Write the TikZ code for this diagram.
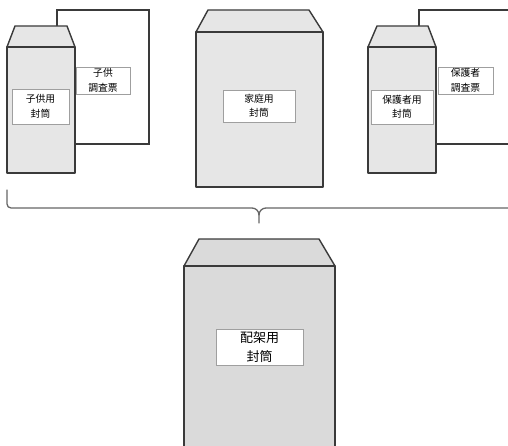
\documentclass[tikz,border=0pt]{standalone}
\usepackage{fontspec}
\newfontfamily\cjk{Noto Sans CJK JP}
\definecolor{envfill}{HTML}{E6E6E6}
\definecolor{envfilltwo}{HTML}{DADADA}
\definecolor{edge}{HTML}{3A3A3A}
\definecolor{bracec}{HTML}{666666}
\begin{document}
\begin{tikzpicture}[x=1pt,y=-1pt,
  env/.style={draw=edge,line width=1.4pt,fill=envfill,line join=round},
  paper/.style={draw=edge,line width=1.4pt,fill=white},
  lbl/.style={draw=gray!75,line width=0.6pt,fill=white,inner sep=0pt,align=center,
    font=\cjk\fontsize{9.8}{14.5}\selectfont},
  biglbl/.style={lbl,font=\cjk\fontsize{13}{19}\selectfont}]
\useasboundingbox (0,0) rectangle (508,446);
\clip (0,0) rectangle (508,446);
% child questionnaire + envelope
\draw[paper] (57,10) rectangle (149,144);
\draw[env] (7,47) -- (15,26) -- (67,26) -- (75,47) -- cycle;
\draw[env] (7,47) rectangle (75,173);
\node[lbl,minimum width=54pt,minimum height=27pt] (cq) at (103,80.5) {子供\\調査票};
\node[lbl,minimum width=57pt,minimum height=35pt] (ce) at (40.5,106.5) {子供用\\封筒};
% family envelope
\draw[env] (196,32) -- (208,10) -- (309,10) -- (323,32) -- cycle;
\draw[env] (196,32) rectangle (323,187);
\node[lbl,minimum width=72pt,minimum height=32pt] (fe) at (259,106) {家庭用\\封筒};
% guardian questionnaire + envelope
\draw[paper] (419,10) rectangle (530,144);
\draw[env] (368,47) -- (377,26) -- (428,26) -- (436,47) -- cycle;
\draw[env] (368,47) rectangle (436,173);
\node[lbl,minimum width=55pt,minimum height=27pt] (gq) at (465.5,80.5) {保護者\\調査票};
\node[lbl,minimum width=62pt,minimum height=34pt] (ge) at (402,107) {保護者用\\封筒};
% brace
\draw[bracec,line width=1.3pt,line cap=round,line join=round]
  (7,190) -- (7,204) to[out=-90,in=180] (11,208) -- (252,208)
  to[out=0,in=90] (259,215) -- (259,223);
\draw[bracec,line width=1.3pt,line cap=round,line join=round]
  (515,208) -- (266,208) to[out=180,in=90] (259,215);
% distribution envelope
\draw[env,fill=envfilltwo] (184,266) -- (199,239) -- (319,239) -- (335,266) -- cycle;
\draw[env,fill=envfilltwo] (184,266) rectangle (335,460);
\node[biglbl,minimum width=87pt,minimum height=36pt] (de) at (259.5,347) {配架用\\封筒};
\end{tikzpicture}
\end{document}
